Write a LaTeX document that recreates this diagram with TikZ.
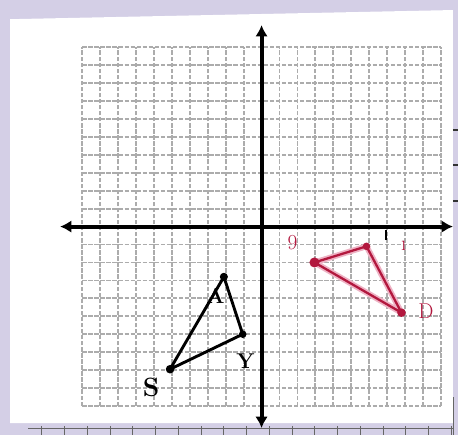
\documentclass[tikz,border=0pt]{standalone}
\usetikzlibrary{arrows.meta, positioning, calc}
\definecolor{paperbg}{RGB}{212,207,230}
\definecolor{gridgray}{RGB}{172,172,172}
\definecolor{penred}{RGB}{178,24,62}
\definecolor{penpink}{RGB}{238,178,196}

\begin{document}
\begin{tikzpicture}[x=0.5cm, y=0.5cm,
          gridline/.style={draw=gridgray, line width=1.4pt, dash pattern=on 3.5pt off 1.3pt},
          axis/.style={{Latex[length=9pt,width=10pt]}-{Latex[length=9pt,width=10pt]}, line width=3.2pt, black},
          blackedge/.style={line width=2.3pt, black, line join=round},
          redglow/.style={line width=4.6pt, penpink, line join=round},
          rededge/.style={line width=1.8pt, penred, line join=round},
          blacklabel/.style={font=\fontsize{17}{17}\selectfont\bfseries, text=black, inner sep=0pt},
          redlabel/.style={font=\fontsize{17}{17}\selectfont, text=penred, inner sep=0pt},
          rulertick/.style={line width=0.7pt, black!60}]

        % scanned sheet on the desk
        \fill [paperbg] (-14.58,-11.62) rectangle (10.95,12.63);
        \useasboundingbox (-14.58,-11.62) rectangle (10.95,12.63);
        \fill [white] (-14.02,-10.95) -- (-14.02,11.56) -- (10.67,12.07) -- (10.67,-10.95) -- cycle;

        % ruler marks along the edges
        \draw [rulertick] (-13.0,-11.23) -- (10.67,-11.23);
        \foreach \k in {0,...,18}
          \draw [rulertick] ({-12.25+1.268*\k},-11.12) -- ({-12.25+1.268*\k},-11.62);
        \draw [rulertick] (10.72,-9.5) -- (10.72,-11.62);
        \foreach \yy in {5.36,3.41,1.45}
          \draw [line width=1.6pt, black!80] (10.67,\yy) -- (10.95,\yy);

        % grid paper
        \draw [gridline] (-10,-10) grid [step=1] (10,10);

        % axes
        \coordinate (xleft) at (-11.23,0);
        \coordinate (xright) at (10.67,0);
        \coordinate (ytop) at (0,11.23);
        \coordinate (ybottom) at (0,-11.23);
        \draw [axis] (xleft) -- (xright);
        \draw [axis] (ybottom) -- (ytop);
        \draw [line width=1.2pt, black] (6.93,-0.2) -- (6.93,-0.75);

        % black triangle
        \coordinate (A) at (-2.1,-2.8);
        \coordinate (Y) at (-1.05,-6.0);
        \coordinate (S) at (-5.1,-7.95);
        \draw [blackedge] (A) -- (Y) -- (S) -- cycle;
        \fill (A) circle (3.2pt) (Y) circle (3pt) (S) circle (3.4pt);
        \node [blacklabel] (lA) at (-2.57,-3.85) {A};
        \node [blacklabel] (lY) at (-0.89,-7.49) {Y};
        \node [blacklabel, font=\fontsize{21}{21}\selectfont\bfseries] (lS) at (-6.15,-8.94) {S};

        % red triangle
        \coordinate (R1) at (2.95,-2.0);
        \coordinate (R2) at (5.85,-1.1);
        \coordinate (R3) at (7.8,-4.8);
        \draw [redglow] (R1) -- (R2) -- (R3) -- cycle;
        \draw [rededge] (R1) -- (R2) -- (R3) -- cycle;
        \fill [penred] (R1) circle (4pt) (R2) circle (3pt) (R3) circle (3.4pt);
        \node [redlabel] (l1) at (1.73,-0.89) {9};
        \node [redlabel] (l2) at (7.93,-1.06) {\i};
        \node [redlabel] (l3) at (9.16,-4.69) {D};
      \end{tikzpicture}
\end{document}
